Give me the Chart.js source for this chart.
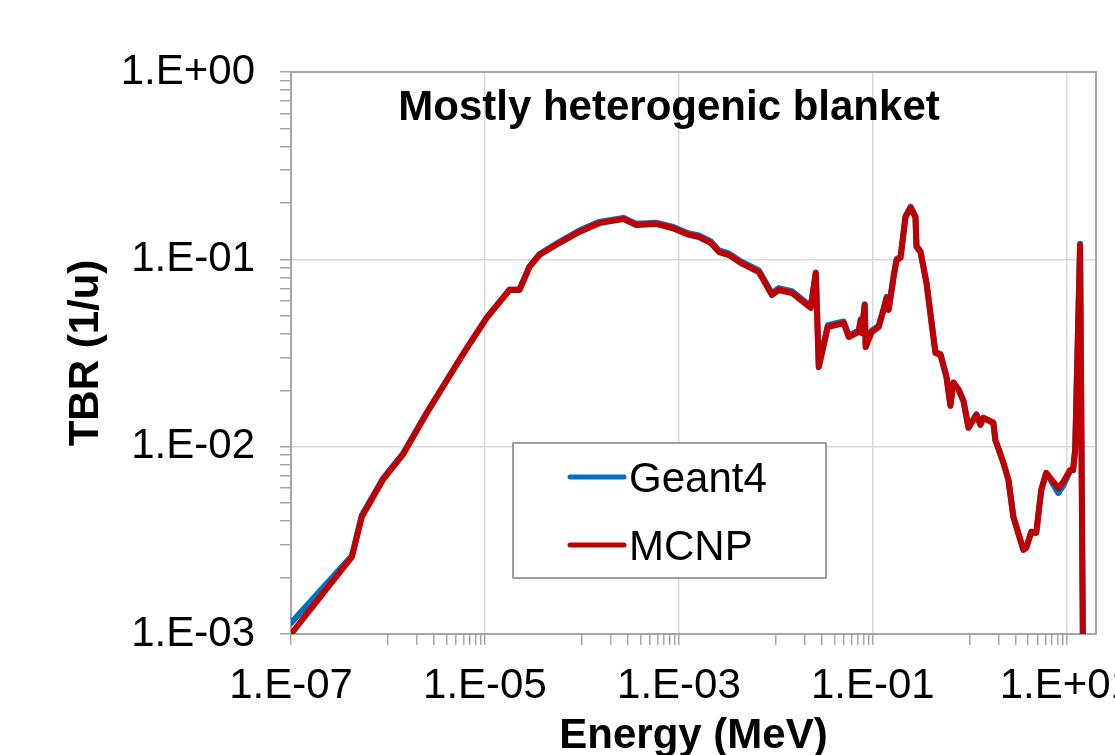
<!DOCTYPE html>
<html>
<head>
<meta charset="utf-8">
<script src="https://cdn.jsdelivr.net/npm/chart.js@4.4.1/dist/chart.umd.min.js"></script>
<style>
  html, body { margin: 0; padding: 0; background: #fff; overflow: hidden; }
  #wrap { width: 1115px; height: 755px; }
</style>
</head>
<body>
<div id="wrap"><canvas id="tbrChart" width="1115" height="755"></canvas></div>
<script>
// energy grid (MeV)
const energies = [
  1e-7, 4.25e-7, 5.37e-7, 8.85e-7, 1.42e-6, 2.51e-6, 4.86e-6, 6.62e-6, 1.04e-5, 1.79e-5,
  2.27e-5, 2.88e-5, 3.65e-5, 5.85e-5, 9.40e-5, 1.51e-4, 2.67e-4, 3.63e-4, 5.82e-4, 8.51e-4,
  1.27e-3, 1.61e-3, 2.14e-3, 2.59e-3, 3.28e-3, 4.36e-3, 6.68e-3, 9.09e-3, 1.07e-2, 1.46e-2,
  2.29e-2, 2.58e-2, 2.77e-2, 3.43e-2, 5.01e-2, 5.64e-2, 7.15e-2, 7.50e-2, 7.67e-2, 8.24e-2,
  8.44e-2, 9.73e-2, 0.1148, 0.129, 0.1387, 0.1455, 0.1637, 0.1758, 0.193, 0.217,
  0.245, 0.275, 0.282, 0.310, 0.357, 0.442, 0.499, 0.574, 0.631, 0.678,
  0.763, 0.859, 0.968, 1.17, 1.285, 1.38, 1.75, 1.83, 2.22, 2.50,
  2.81, 3.56, 3.82, 4.30, 4.84, 5.45, 6.14, 8.16, 9.19, 10.8,
  11.6, 12.2, 13.7, 15.1
];

const geant4 = [
  1.145e-3, 2.62e-3, 4.30e-3, 6.75e-3, 9.15e-3, 1.52e-2, 2.64e-2, 3.42e-2, 4.88e-2, 6.90e-2,
  6.90e-2, 9.18e-2, 0.1068, 0.1240, 0.1425, 0.1585, 0.1665, 0.1550, 0.1570, 0.1495,
  0.1375, 0.1340, 0.1245, 0.1115, 0.1075, 0.0975, 0.0872, 0.0660, 0.0702, 0.0676,
  0.0562, 0.0850, 0.0270, 0.0445, 0.0466, 0.0392, 0.0417, 0.0480, 0.0410, 0.0575,
  0.0346, 0.0416, 0.0443, 0.0545, 0.0630, 0.0543, 0.0815, 0.1005, 0.1030, 0.170,
  0.191, 0.170, 0.1180, 0.1105, 0.0755, 0.0320, 0.0312, 0.0238, 0.0167, 0.0221,
  0.0203, 0.0177, 0.0127, 0.01490, 0.01315, 0.01430, 0.01345, 0.01092, 0.00822, 0.00668,
  0.00424, 0.00283, 0.00290, 0.00352, 0.00348, 0.00590, 0.00726, 0.00566, 0.00620, 0.00742,
  0.00750, 0.0097, 0.121, 0.0001
];

const mcnp = [
  1.0e-3, 2.58e-3, 4.21e-3, 6.64e-3, 9.03e-3, 1.51e-2, 2.63e-2, 3.40e-2, 4.86e-2, 6.86e-2,
  6.86e-2, 9.10e-2, 0.1054, 0.1222, 0.140, 0.156, 0.164, 0.1525, 0.1545, 0.147,
  0.135, 0.1315, 0.122, 0.1094, 0.1054, 0.0955, 0.0855, 0.0645, 0.0686, 0.0661,
  0.0550, 0.0845, 0.0266, 0.0435, 0.0457, 0.0385, 0.0409, 0.0474, 0.0404, 0.0570,
  0.0340, 0.0409, 0.0435, 0.0537, 0.0622, 0.0537, 0.0805, 0.099, 0.1016, 0.168,
  0.188, 0.168, 0.1164, 0.1094, 0.0748, 0.0316, 0.0308, 0.0235, 0.0165, 0.0219,
  0.0201, 0.0175, 0.0126, 0.01476, 0.01305, 0.01422, 0.01337, 0.01085, 0.00818, 0.00664,
  0.00421, 0.00281, 0.00288, 0.0035, 0.00346, 0.00587, 0.00723, 0.00602, 0.00648, 0.0075,
  0.0075, 0.0096, 0.119, 0.0001
];

const seriesNames = ['Geant4', 'MCNP'];
const xTickValues = [1e-7, 1e-5, 1e-3, 1e-1, 1e1];
const xTickLabels = ['1.E-07', '1.E-05', '1.E-03', '1.E-01', '1.E+01'];
const yTickValues = [1e-3, 1e-2, 1e-1, 1e0];
const yTickLabels = ['1.E-03', '1.E-02', '1.E-01', '1.E+00'];
const chartTitle = 'Mostly heterogenic blanket';

const FONT = '"Liberation Sans", Arial, sans-serif';

function majorIndex(v, list) {
  return list.findIndex(t => Math.abs(Math.log10(t) - Math.log10(v)) < 1e-6);
}

// y: 1..9 x each decade
function yAxisTicks(min, max) {
  const out = [];
  for (let d = Math.floor(Math.log10(min)); d <= Math.ceil(Math.log10(max)); d++) {
    for (let m = 1; m <= 9; m++) {
      const v = m * Math.pow(10, d);
      if (v >= min * 0.999 && v <= max * 1.001) out.push({ value: v });
    }
  }
  return out;
}

// x: major every 2 decades, minor ticks (Excel style) only in the second decade
function xAxisTicks(max) {
  const out = [];
  xTickValues.forEach(t => {
    out.push({ value: t });
    for (let m = 1; m <= 9; m++) {
      const v = m * t * 10;
      if (v <= max) out.push({ value: v });
    }
  });
  return out.sort((a, b) => a.value - b.value);
}

const insidePlugin = {
  id: 'inside',
  beforeDatasetsDraw(chart) {
    const { ctx, chartArea: a } = chart;
    ctx.save();
    ctx.strokeStyle = '#A6A6A6';
    ctx.lineWidth = 2;
    ctx.strokeRect(a.left, a.top, a.right - a.left, a.bottom - a.top);
    ctx.restore();
  },
  afterDatasetsDraw(chart) {
    const { ctx, chartArea: a } = chart;
    ctx.save();
    // title inside the plot
    ctx.fillStyle = '#000';
    ctx.font = 'bold 42px ' + FONT;
    ctx.textAlign = 'center';
    ctx.textBaseline = 'alphabetic';
    ctx.fillText(chartTitle, a.left + 378, a.top + 48);

    // legend box
    const bx = a.left + 222, by = a.top + 371, bw = 313, bh = 135;
    ctx.fillStyle = '#fff';
    ctx.fillRect(bx, by, bw, bh);
    ctx.strokeStyle = '#808080';
    ctx.lineWidth = 1.5;
    ctx.strokeRect(bx, by, bw, bh);
    ctx.font = '42px ' + FONT;
    ctx.textAlign = 'left';
    chart.data.datasets.forEach((ds, i) => {
      const ly = by + 34 + i * 68;
      ctx.strokeStyle = ds.borderColor;
      ctx.lineWidth = 5;
      ctx.lineCap = 'round';
      ctx.beginPath();
      ctx.moveTo(bx + 57, ly);
      ctx.lineTo(bx + 111, ly);
      ctx.stroke();
      ctx.fillStyle = '#000';
      ctx.fillText(ds.label, bx + 116, ly + 15);
    });
    ctx.restore();
  }
};

new Chart(document.getElementById('tbrChart'), {
  type: 'line',
  data: {
    datasets: [
      {
        label: seriesNames[0],
        data: energies.map((e, i) => ({ x: e, y: geant4[i] })),
        borderColor: '#0070C0',
        borderWidth: 6,
        order: 1
      },
      {
        label: seriesNames[1],
        data: energies.map((e, i) => ({ x: e, y: mcnp[i] })),
        borderColor: '#C00000',
        borderWidth: 6,
        order: 0
      }
    ]
  },
  options: {
    responsive: false,
    devicePixelRatio: 1,
    animation: false,
    layout: { padding: { left: 0, top: 72, right: 19, bottom: 0 } },
    elements: {
      point: { radius: 0 },
      line: { tension: 0, fill: false, borderJoinStyle: 'round', borderCapStyle: 'round' }
    },
    plugins: {
      legend: { display: false },
      title: { display: false },
      tooltip: { enabled: false }
    },
    scales: {
      x: {
        type: 'logarithmic',
        min: 1e-7,
        max: 20,
        afterBuildTicks: s => { s.ticks = xAxisTicks(20); },
        afterFit: s => {
          s.height = 121;
          // let the last label run off the canvas like in the original
          s.paddingLeft = 0;
          s.paddingRight = 0;
        },
        grid: {
          color: c => (c.tick && majorIndex(c.tick.value, xTickValues) >= 0) ? '#D9D9D9' : 'rgba(0,0,0,0)',
          lineWidth: 1.5,
          tickColor: '#A6A6A6',
          tickLength: 11,
          tickWidth: 1.5
        },
        border: { color: '#A6A6A6', width: 2 },
        ticks: {
          autoSkip: false,
          maxRotation: 0,
          padding: 16,
          color: '#000',
          font: { family: FONT, size: 42 },
          callback: v => {
            const i = majorIndex(v, xTickValues);
            return i >= 0 ? xTickLabels[i] : '';
          }
        },
        title: {
          display: true,
          text: 'Energy (MeV)',
          color: '#000',
          font: { family: FONT, size: 42, weight: 'bold' },
          padding: { top: 0, bottom: -7 }
        }
      },
      y: {
        type: 'logarithmic',
        min: 1e-3,
        max: 1,
        afterBuildTicks: s => { s.ticks = yAxisTicks(1e-3, 1); },
        afterFit: s => { s.width = 291; },
        grid: {
          color: c => (c.tick && majorIndex(c.tick.value, yTickValues) >= 0) ? '#D9D9D9' : 'rgba(0,0,0,0)',
          lineWidth: 1.5,
          tickColor: '#A6A6A6',
          tickLength: 11,
          tickWidth: 1.5
        },
        border: { color: '#A6A6A6', width: 2 },
        ticks: {
          autoSkip: false,
          padding: 25,
          color: '#000',
          font: { family: FONT, size: 42 },
          callback: v => {
            const i = majorIndex(v, yTickValues);
            return i >= 0 ? yTickLabels[i] : '';
          }
        },
        title: {
          display: true,
          text: 'TBR (1/u)',
          color: '#000',
          font: { family: FONT, size: 42, weight: 'bold' },
          padding: { top: 61, bottom: 0 }
        }
      }
    }
  },
  plugins: [insidePlugin]
});
</script>
</body>
</html>
